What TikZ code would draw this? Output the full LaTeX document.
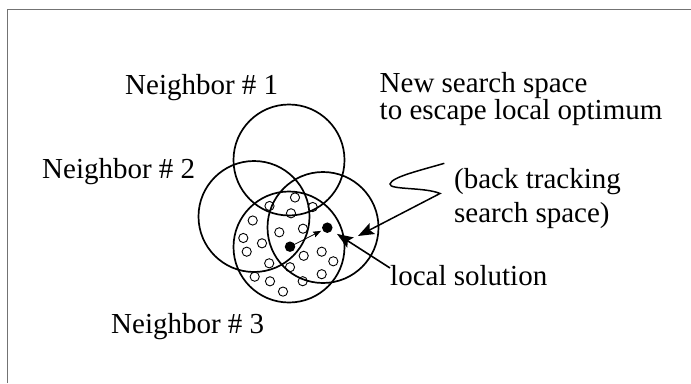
\documentclass[tikz,border=0pt]{standalone}
\usepackage{fontspec}
\setmainfont{Liberation Serif}
\usetikzlibrary{arrows.meta}
\begin{document}
\begin{tikzpicture}[x=1pt,y=-1pt,
  bigc/.style={circle,draw,line width=1.7pt,minimum size=111pt,inner sep=0pt},
  pt/.style={circle,draw,line width=0.9pt,minimum size=9.2pt,inner sep=0pt},
  sol/.style={circle,fill,minimum size=10.5pt,inner sep=0pt},
  lbl/.style={inner sep=0pt,anchor=base west,font=\fontsize{29pt}{27pt}\selectfont,align=left},
  bigarrow/.style={line width=1.6pt,-{Stealth[length=16pt,width=12pt,inset=3pt]}},
  frame/.style={draw=black!55,line width=1.5pt},
]
\useasboundingbox (0,0) rectangle (691,383);
% outer frame (top and left edges)
\draw[frame] (7.5,383) -- (7.5,9.5) -- (691,9.5);

% neighbourhoods
\node[bigc] (n1) at (289,160) {};
\node[bigc] (n2) at (254,216.5) {};
\node[bigc] (n3) at (289,247) {};
\node[bigc] (n4) at (323,227.5) {};

% sampled candidate points
\foreach \px/\py [count=\i] in {
  295/197.5, 269.5/206, 312.7/207, 291/213.3, 252.7/220.5,
  279.3/232.3, 303/228.7, 243.3/238, 262/243.3, 246.7/251.7,
  303.7/255.8, 321.7/251.7, 333.3/261.3, 269.2/263.3, 290/267.2,
  321.7/274.2, 254.7/276.7, 270/281.3, 302.7/281.2, 283/291.6}
  \node[pt] (p\i) at (\px,\py) {};

% current and local solutions
\node[sol] (d1) at (290,246.7) {};
\node[sol] (d2) at (327.3,227.7) {};
\draw[line width=0.8pt,-{Stealth[length=8pt,width=6pt,inset=1pt]},shorten >=1.5pt] (d1.center) -- (d2);

% labels (multi-line labels are placed by the baseline of their last line)
\node[lbl] (l1) at (125,94.3) {Neighbor \# 1};
\node[lbl] (l2) at (42,178.5) {Neighbor \# 2};
\node[lbl] (l3) at (111,333) {Neighbor \# 3};
\node[lbl] (nss) at (379.5,119) {New search space\\to escape local optimum};
\node[lbl,font=\fontsize{29pt}{34pt}\selectfont] (bts) at (454,222) {(back tracking\\search space)};
\node[lbl] (ls) at (390,285) {local solution};

% pointers
\coordinate (lsfoot) at (390,268);
\draw[bigarrow,shorten >=6pt] (lsfoot) -- (d2);
\coordinate (btstart) at (444.3,163.3);
\coordinate (bttip) at (358,236);
\draw[bigarrow,line width=1.5pt] (btstart) .. controls (418,171) and (392,177) .. (390,184)
  .. controls (389,190) and (425,187) .. (440,193.5) -- (bttip);
\end{tikzpicture}
\end{document}
